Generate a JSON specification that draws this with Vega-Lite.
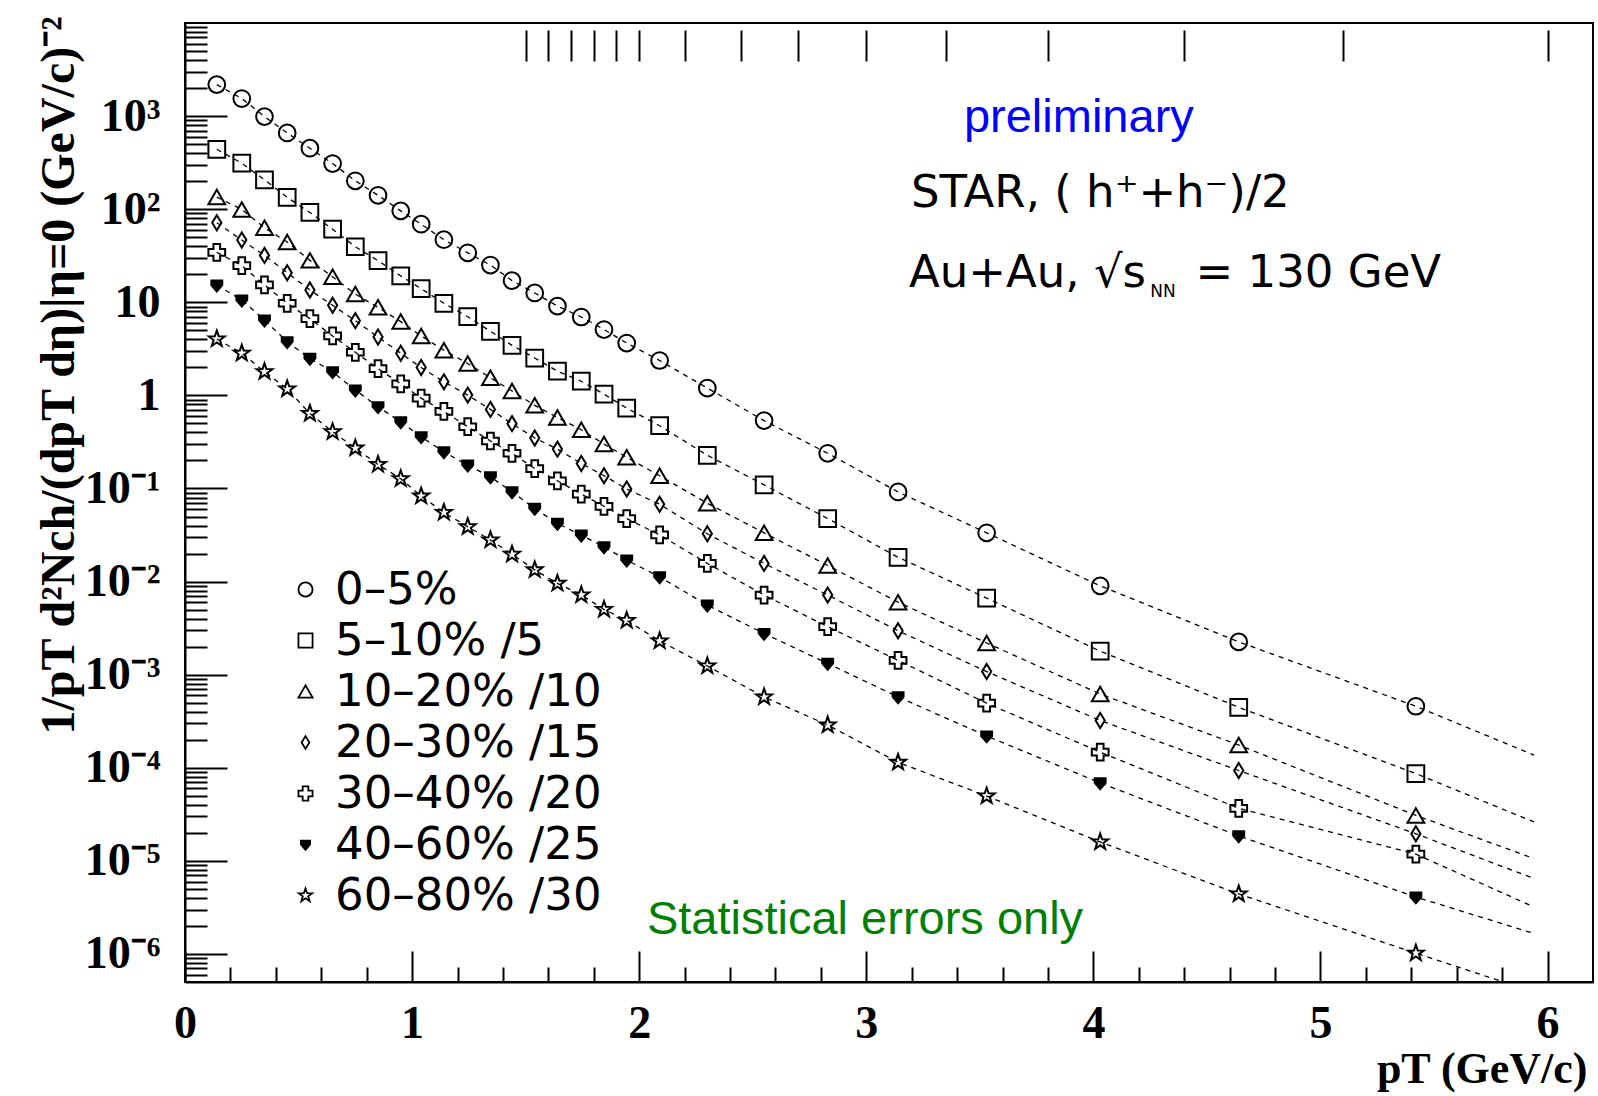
{
"$schema": "https://vega.github.io/schema/vega-lite/v6.json",
"width": 1408, "height": 959,
"autosize": {"type": "none"},
"padding": {"left": 185, "top": 23, "right": 5, "bottom": 114},
"background": "white",
"config": {
 "view": {"stroke": "black", "strokeWidth": 2},
 "axis": {"domainColor": "black", "tickColor": "black", "labelColor": "black", "titleColor": "black", "grid": false}
},
"datasets": {"d": [
{"s":"0–5%","x":0.14,"y":2180},{"s":"0–5%","x":0.25,"y":1545},{"s":"0–5%","x":0.35,"y":988},{"s":"0–5%","x":0.45,"y":659},{"s":"0–5%","x":0.55,"y":452},{"s":"0–5%","x":0.65,"y":309},{"s":"0–5%","x":0.75,"y":202},{"s":"0–5%","x":0.85,"y":141},{"s":"0–5%","x":0.95,"y":96},{"s":"0–5%","x":1.04,"y":69},{"s":"0–5%","x":1.14,"y":47},{"s":"0–5%","x":1.245,"y":34},{"s":"0–5%","x":1.345,"y":25.1},{"s":"0–5%","x":1.44,"y":17.1},{"s":"0–5%","x":1.54,"y":12.6},{"s":"0–5%","x":1.64,"y":9.1},{"s":"0–5%","x":1.745,"y":6.95},{"s":"0–5%","x":1.845,"y":5.1},{"s":"0–5%","x":1.945,"y":3.65},{"s":"0–5%","x":2.09,"y":2.37},{"s":"0–5%","x":2.3,"y":1.2},{"s":"0–5%","x":2.55,"y":0.536},{"s":"0–5%","x":2.83,"y":0.239},{"s":"0–5%","x":3.14,"y":0.0918},{"s":"0–5%","x":3.53,"y":0.0334},{"s":"0–5%","x":4.03,"y":0.009},{"s":"0–5%","x":4.64,"y":0.00225},{"s":"0–5%","x":5.42,"y":0.000458},
{"s":"5–10% /5","x":0.14,"y":440},{"s":"5–10% /5","x":0.25,"y":312},{"s":"5–10% /5","x":0.35,"y":207},{"s":"5–10% /5","x":0.45,"y":134},{"s":"5–10% /5","x":0.55,"y":92.2},{"s":"5–10% /5","x":0.65,"y":61},{"s":"5–10% /5","x":0.75,"y":39.5},{"s":"5–10% /5","x":0.85,"y":28},{"s":"5–10% /5","x":0.95,"y":19.2},{"s":"5–10% /5","x":1.04,"y":14},{"s":"5–10% /5","x":1.14,"y":9.76},{"s":"5–10% /5","x":1.245,"y":7.0},{"s":"5–10% /5","x":1.345,"y":4.88},{"s":"5–10% /5","x":1.44,"y":3.45},{"s":"5–10% /5","x":1.54,"y":2.52},{"s":"5–10% /5","x":1.64,"y":1.82},{"s":"5–10% /5","x":1.745,"y":1.42},{"s":"5–10% /5","x":1.845,"y":1.03},{"s":"5–10% /5","x":1.945,"y":0.73},{"s":"5–10% /5","x":2.09,"y":0.4725},{"s":"5–10% /5","x":2.3,"y":0.2273},{"s":"5–10% /5","x":2.55,"y":0.1094},{"s":"5–10% /5","x":2.83,"y":0.04755},{"s":"5–10% /5","x":3.14,"y":0.01823},{"s":"5–10% /5","x":3.53,"y":0.006646},{"s":"5–10% /5","x":4.03,"y":0.001789},{"s":"5–10% /5","x":4.64,"y":0.0004466},{"s":"5–10% /5","x":5.42,"y":0.0000866},
{"s":"10–20% /10","x":0.14,"y":135},{"s":"10–20% /10","x":0.25,"y":99.4},{"s":"10–20% /10","x":0.35,"y":63.1},{"s":"10–20% /10","x":0.45,"y":44.4},{"s":"10–20% /10","x":0.55,"y":28.2},{"s":"10–20% /10","x":0.65,"y":18.8},{"s":"10–20% /10","x":0.75,"y":12.24},{"s":"10–20% /10","x":0.85,"y":8.82},{"s":"10–20% /10","x":0.95,"y":6.2},{"s":"10–20% /10","x":1.04,"y":4.35},{"s":"10–20% /10","x":1.14,"y":3.06},{"s":"10–20% /10","x":1.245,"y":2.2},{"s":"10–20% /10","x":1.345,"y":1.547},{"s":"10–20% /10","x":1.44,"y":1.114},{"s":"10–20% /10","x":1.54,"y":0.782},{"s":"10–20% /10","x":1.64,"y":0.578},{"s":"10–20% /10","x":1.745,"y":0.427},{"s":"10–20% /10","x":1.845,"y":0.3},{"s":"10–20% /10","x":1.945,"y":0.2162},{"s":"10–20% /10","x":2.09,"y":0.1372},{"s":"10–20% /10","x":2.3,"y":0.0694},{"s":"10–20% /10","x":2.55,"y":0.0334},{"s":"10–20% /10","x":2.83,"y":0.0149},{"s":"10–20% /10","x":3.14,"y":0.00601},{"s":"10–20% /10","x":3.53,"y":0.00219},{"s":"10–20% /10","x":4.03,"y":0.00062},{"s":"10–20% /10","x":4.64,"y":0.0001756},{"s":"10–20% /10","x":5.42,"y":0.0000308},
{"s":"20–30% /15","x":0.14,"y":71.6},{"s":"20–30% /15","x":0.25,"y":46.6},{"s":"20–30% /15","x":0.35,"y":31.9},{"s":"20–30% /15","x":0.45,"y":20.8},{"s":"20–30% /15","x":0.55,"y":13.55},{"s":"20–30% /15","x":0.65,"y":9.28},{"s":"20–30% /15","x":0.75,"y":6.35},{"s":"20–30% /15","x":0.85,"y":4.24},{"s":"20–30% /15","x":0.95,"y":2.835},{"s":"20–30% /15","x":1.04,"y":1.991},{"s":"20–30% /15","x":1.14,"y":1.398},{"s":"20–30% /15","x":1.245,"y":1.007},{"s":"20–30% /15","x":1.345,"y":0.707},{"s":"20–30% /15","x":1.44,"y":0.497},{"s":"20–30% /15","x":1.54,"y":0.349},{"s":"20–30% /15","x":1.64,"y":0.2645},{"s":"20–30% /15","x":1.745,"y":0.1857},{"s":"20–30% /15","x":1.845,"y":0.1372},{"s":"20–30% /15","x":1.945,"y":0.0989},{"s":"20–30% /15","x":2.09,"y":0.0677},{"s":"20–30% /15","x":2.3,"y":0.0326},{"s":"20–30% /15","x":2.55,"y":0.01567},{"s":"20–30% /15","x":2.83,"y":0.00717},{"s":"20–30% /15","x":3.14,"y":0.002963},{"s":"20–30% /15","x":3.53,"y":0.00108},{"s":"20–30% /15","x":4.03,"y":0.000322},{"s":"20–30% /15","x":4.64,"y":0.0000935},{"s":"20–30% /15","x":5.42,"y":0.00001955},
{"s":"30–40% /20","x":0.14,"y":34.4},{"s":"30–40% /20","x":0.25,"y":24.8},{"s":"30–40% /20","x":0.35,"y":15.37},{"s":"30–40% /20","x":0.45,"y":9.76},{"s":"30–40% /20","x":0.55,"y":6.68},{"s":"30–40% /20","x":0.65,"y":4.35},{"s":"30–40% /20","x":0.75,"y":2.906},{"s":"30–40% /20","x":0.85,"y":1.941},{"s":"30–40% /20","x":0.95,"y":1.329},{"s":"30–40% /20","x":1.04,"y":0.934},{"s":"30–40% /20","x":1.14,"y":0.673},{"s":"30–40% /20","x":1.245,"y":0.4607},{"s":"30–40% /20","x":1.345,"y":0.3236},{"s":"30–40% /20","x":1.44,"y":0.239},{"s":"30–40% /20","x":1.54,"y":0.1637},{"s":"30–40% /20","x":1.64,"y":0.121},{"s":"30–40% /20","x":1.745,"y":0.0871},{"s":"30–40% /20","x":1.845,"y":0.0644},{"s":"30–40% /20","x":1.945,"y":0.04755},{"s":"30–40% /20","x":2.09,"y":0.03176},{"s":"30–40% /20","x":2.3,"y":0.01567},{"s":"30–40% /20","x":2.55,"y":0.00717},{"s":"30–40% /20","x":2.83,"y":0.003278},{"s":"30–40% /20","x":3.14,"y":0.001426},{"s":"30–40% /20","x":3.53,"y":0.000494},{"s":"30–40% /20","x":4.03,"y":0.0001472},{"s":"30–40% /20","x":4.64,"y":0.0000367},{"s":"30–40% /20","x":5.42,"y":0.0000118},
{"s":"40–60% /25","x":0.14,"y":15.3},{"s":"40–60% /25","x":0.25,"y":10.56},{"s":"40–60% /25","x":0.35,"y":6.44},{"s":"40–60% /25","x":0.45,"y":3.77},{"s":"40–60% /25","x":0.55,"y":2.497},{"s":"40–60% /25","x":0.65,"y":1.792},{"s":"40–60% /25","x":0.75,"y":1.14},{"s":"40–60% /25","x":0.85,"y":0.754},{"s":"40–60% /25","x":0.95,"y":0.52},{"s":"40–60% /25","x":1.04,"y":0.359},{"s":"40–60% /25","x":1.14,"y":0.2476},{"s":"40–60% /25","x":1.245,"y":0.1781},{"s":"40–60% /25","x":1.345,"y":0.1334},{"s":"40–60% /25","x":1.44,"y":0.092},{"s":"40–60% /25","x":1.54,"y":0.061},{"s":"40–60% /25","x":1.64,"y":0.0421},{"s":"40–60% /25","x":1.745,"y":0.0315},{"s":"40–60% /25","x":1.845,"y":0.0236},{"s":"40–60% /25","x":1.945,"y":0.017},{"s":"40–60% /25","x":2.09,"y":0.01124},{"s":"40–60% /25","x":2.3,"y":0.00558},{"s":"40–60% /25","x":2.55,"y":0.00277},{"s":"40–60% /25","x":2.83,"y":0.00132},{"s":"40–60% /25","x":3.14,"y":0.000577},{"s":"40–60% /25","x":3.53,"y":0.0002194},{"s":"40–60% /25","x":4.03,"y":0.0000688},{"s":"40–60% /25","x":4.64,"y":0.00001853},{"s":"40–60% /25","x":5.42,"y":0.00000409},
{"s":"60–80% /30","x":0.14,"y":4.03},{"s":"60–80% /30","x":0.25,"y":2.837},{"s":"60–80% /30","x":0.35,"y":1.798},{"s":"60–80% /30","x":0.45,"y":1.172},{"s":"60–80% /30","x":0.55,"y":0.639},{"s":"60–80% /30","x":0.65,"y":0.406},{"s":"60–80% /30","x":0.75,"y":0.2713},{"s":"60–80% /30","x":0.85,"y":0.1812},{"s":"60–80% /30","x":0.95,"y":0.1272},{"s":"60–80% /30","x":1.04,"y":0.0828},{"s":"60–80% /30","x":1.14,"y":0.0553},{"s":"60–80% /30","x":1.245,"y":0.0388},{"s":"60–80% /30","x":1.345,"y":0.028},{"s":"60–80% /30","x":1.44,"y":0.01966},{"s":"60–80% /30","x":1.54,"y":0.01336},{"s":"60–80% /30","x":1.64,"y":0.00957},{"s":"60–80% /30","x":1.745,"y":0.00719},{"s":"60–80% /30","x":1.845,"y":0.00502},{"s":"60–80% /30","x":1.945,"y":0.003826},{"s":"60–80% /30","x":2.09,"y":0.002304},{"s":"60–80% /30","x":2.3,"y":0.001241},{"s":"60–80% /30","x":2.55,"y":0.000576},{"s":"60–80% /30","x":2.83,"y":0.000288},{"s":"60–80% /30","x":3.14,"y":0.0001143},{"s":"60–80% /30","x":3.53,"y":0.0000497},{"s":"60–80% /30","x":4.03,"y":0.00001596},{"s":"60–80% /30","x":4.64,"y":0.00000441},{"s":"60–80% /30","x":5.42,"y":0.00000102},
{"s":"0–5%","x":5.94,"y":0.000137,"f":1},{"s":"5–10% /5","x":5.94,"y":0.0000262,"f":1},{"s":"10–20% /10","x":5.94,"y":0.0000106,"f":1},{"s":"20–30% /15","x":5.94,"y":0.00000647,"f":1},{"s":"30–40% /20","x":5.94,"y":0.0000032,"f":1},{"s":"40–60% /25","x":5.94,"y":0.00000166,"f":1},{"s":"60–80% /30","x":5.94,"y":0.00000039,"f":1}
]},
"layer": [
{
 "data": {"name": "d"},
 "mark": {"type": "line", "stroke": "black", "strokeWidth": 1.3, "strokeDash": [5, 5], "interpolate": "linear", "clip": true},
 "encoding": {
  "x": {"field": "x", "type": "quantitative", "scale": {"type": "linear", "domain": [0, 6.2], "nice": false, "zero": false},
   "axis": {"orient": "bottom", "values": [0,1,2,3,4,5,6], "labels": false, "domain": false, "tickSize": -31, "tickWidth": 2, "title": null}},
  "y": {"field": "y", "type": "quantitative", "scale": {"type": "log", "domain": [5e-7, 10000], "nice": false},
   "axis": {"orient": "left", "values": [1e-6,1e-5,1e-4,1e-3,1e-2,1e-1,1,10,100,1000], "labels": false, "domain": false, "tickSize": -42, "tickWidth": 2, "title": null}},
  "detail": {"field": "s", "type": "nominal"}
 }
},
{
 "data": {"name": "d"},
 "transform": [{"filter": "!datum.f"}],
 "mark": {"type": "point", "filled": false, "strokeWidth": 2, "opacity": 1, "size": 280, "clip": true},
 "encoding": {
  "x": {"field": "x", "type": "quantitative", "scale": {"type": "linear", "domain": [0, 6.2], "nice": false, "zero": false},
   "axis": {"orient": "bottom", "values": [0,1,2,3,4,5,6], "ticks": false, "domain": true, "domainWidth": 2, "labelFlush": false, "labelOverlap": false,
    "labelFont": "Liberation Serif", "labelFontWeight": "bold", "labelFontSize": 46, "labelPadding": 19,
    "title": "pT (GeV/c)", "titleFont": "Liberation Serif", "titleFontWeight": "bold", "titleFontSize": 44,
    "titleX": 1402, "titleY": 100, "titleAlign": "right", "titleBaseline": "alphabetic"}},
  "y": {"field": "y", "type": "quantitative", "scale": {"type": "log", "domain": [5e-7, 10000], "nice": false},
   "axis": {"orient": "left", "values": [1e-6,1e-5,1e-4,1e-3,1e-2,1e-1,1,10,100,1000], "ticks": false, "domain": true, "domainWidth": 2, "labelFlush": false, "labelOverlap": false,
    "labelExpr": "datum.value == 1 ? '1' : datum.value == 10 ? '10' : '10' + (datum.value < 1 ? '⁻' : '') + substring('⁰¹²³⁴⁵⁶⁷⁸⁹', abs(round(log(datum.value)/LN10)), abs(round(log(datum.value)/LN10)) + 1)",
    "labelFont": "Liberation Serif", "labelFontWeight": "bold", "labelFontSize": 46, "labelPadding": 25, "labelBaseline": "middle",
    "title": "1/pT  d²Nch/(dpT dη)|η=0  (GeV/c)⁻²", "titleFont": "Liberation Serif", "titleFontWeight": "bold", "titleFontSize": 48,
    "titleX": -126, "titleY": 352, "titleAngle": -90, "titleAlign": "center", "titleBaseline": "middle"}},
  "shape": {"field": "s", "type": "nominal",
   "scale": {"domain": ["0–5%","5–10% /5","10–20% /10","20–30% /15","30–40% /20","40–60% /25","60–80% /30"],
    "range": ["circle","square","triangle-up","M0,-0.9L0.55,0L0,0.9L-0.55,0Z","cross","M-0.65,-0.55L0.65,-0.55L0.65,0L0,0.75L-0.65,0Z","M0,-1L0.235,-0.324L0.951,-0.309L0.38,0.124L0.588,0.809L0,0.4L-0.588,0.809L-0.38,0.124L-0.951,-0.309L-0.235,-0.324Z"]},
   "legend": {"orient": "none", "legendX": 98, "legendY": 544, "title": null, "padding": 0, "rowPadding": 5, "symbolSize": 200,
    "symbolStrokeWidth": 1.8, "labelFont": "DejaVu Sans", "labelFontSize": 45, "labelColor": "black", "labelOffset": 7, "labelLimit": 500}},
  "fill": {"field": "s", "type": "nominal",
   "scale": {"domain": ["0–5%","5–10% /5","10–20% /10","20–30% /15","30–40% /20","40–60% /25","60–80% /30"],
    "range": ["transparent","transparent","transparent","transparent","transparent","black","transparent"]},
   "legend": {"orient": "none", "legendX": 98, "legendY": 544, "title": null, "padding": 0, "rowPadding": 5, "symbolSize": 200,
    "symbolStrokeWidth": 1.8, "labelFont": "DejaVu Sans", "labelFontSize": 45, "labelColor": "black", "labelOffset": 7, "labelLimit": 500}},
  "stroke": {"field": "s", "type": "nominal",
   "scale": {"domain": ["0–5%","5–10% /5","10–20% /10","20–30% /15","30–40% /20","40–60% /25","60–80% /30"],
    "range": ["black","black","black","black","black","black","black"]},
   "legend": {"orient": "none", "legendX": 98, "legendY": 544, "title": null, "padding": 0, "rowPadding": 5, "symbolSize": 200,
    "symbolStrokeWidth": 1.8, "labelFont": "DejaVu Sans", "labelFontSize": 45, "labelColor": "black", "labelOffset": 7, "labelLimit": 500}}
 }
},
{
 "data": {"values": [
  {"x": 3.197, "y": 106.4, "t": "STAR, ( h⁺+h⁻)/2"},
  {"x": 3.188, "y": 14.71, "t": "Au+Au, √s"},
  {"x": 4.45, "y": 14.71, "t": "= 130 GeV"}
 ]},
 "mark": {"type": "text", "font": "DejaVu Sans", "fontSize": 45, "color": "black", "align": "left", "baseline": "alphabetic"},
 "encoding": {
  "x": {"field": "x", "type": "quantitative", "scale": {"type": "linear", "domain": [0, 6.2], "nice": false, "zero": false},
   "axis": {"orient": "bottom", "values": [0.2,0.4,0.6,0.8,1.2,1.4,1.6,1.8,2.2,2.4,2.6,2.8,3.2,3.4,3.6,3.8,4.2,4.4,4.6,4.8,5.2,5.4,5.6,5.8], "labels": false, "domain": false, "tickSize": -15, "tickWidth": 2, "title": null}},
  "y": {"field": "y", "type": "quantitative", "scale": {"type": "log", "domain": [5e-7, 10000], "nice": false},
   "axis": {"orient": "left", "values": [6e-7,7e-7,8e-7,9e-7,2e-6,3e-6,4e-6,5e-6,6e-6,7e-6,8e-6,9e-6,2e-5,3e-5,4e-5,5e-5,6e-5,7e-5,8e-5,9e-5,2e-4,3e-4,4e-4,5e-4,6e-4,7e-4,8e-4,9e-4,2e-3,3e-3,4e-3,5e-3,6e-3,7e-3,8e-3,9e-3,0.02,0.03,0.04,0.05,0.06,0.07,0.08,0.09,0.2,0.3,0.4,0.5,0.6,0.7,0.8,0.9,2,3,4,5,6,7,8,9,20,30,40,50,60,70,80,90,200,300,400,500,600,700,800,900,2000,3000,4000,5000,6000,7000,8000,9000], "labels": false, "domain": false, "tickSize": -22, "tickWidth": 2, "title": null}},
  "text": {"field": "t", "type": "nominal"}
 }
},
{
 "data": {"values": [{"x": 4.25, "y": 11.48, "t": "NN"}]},
 "mark": {"type": "text", "font": "DejaVu Sans", "fontSize": 17, "color": "black", "align": "left", "baseline": "alphabetic"},
 "encoding": {
  "x": {"field": "x", "type": "quantitative", "scale": {"type": "linear", "domain": [0, 6.2], "nice": false, "zero": false},
   "axis": {"orient": "top", "values": [1.5,1.6,1.7,1.8,1.9,2.0,2.2,2.45,2.7,3.0,3.35,3.8,4.4,5.1,6.0], "labels": false, "domain": false, "tickSize": -31, "tickWidth": 2, "offset": -7, "title": null}},
  "y": {"field": "y", "type": "quantitative", "scale": {"type": "log", "domain": [5e-7, 10000], "nice": false}, "axis": null},
  "text": {"field": "t", "type": "nominal"}
 }
},
{
 "data": {"values": [{"x": 3.43, "y": 674, "t": "preliminary"}]},
 "mark": {"type": "text", "font": "Liberation Sans", "fontSize": 47, "color": "#0000ff", "align": "left", "baseline": "alphabetic"},
 "encoding": {
  "x": {"field": "x", "type": "quantitative", "scale": {"type": "linear", "domain": [0, 6.2], "nice": false, "zero": false}, "axis": null},
  "y": {"field": "y", "type": "quantitative", "scale": {"type": "log", "domain": [5e-7, 10000], "nice": false}, "axis": null},
  "text": {"field": "t", "type": "nominal"}
 }
},
{
 "data": {"values": [{"x": 2.034, "y": 0.00000162, "t": "Statistical errors only"}]},
 "mark": {"type": "text", "font": "Liberation Sans", "fontSize": 47, "color": "#008000", "align": "left", "baseline": "alphabetic"},
 "encoding": {
  "x": {"field": "x", "type": "quantitative", "scale": {"type": "linear", "domain": [0, 6.2], "nice": false, "zero": false}, "axis": null},
  "y": {"field": "y", "type": "quantitative", "scale": {"type": "log", "domain": [5e-7, 10000], "nice": false}, "axis": null},
  "text": {"field": "t", "type": "nominal"}
 }
}
],
"resolve": {"axis": {"x": "independent", "y": "independent"}}
}
